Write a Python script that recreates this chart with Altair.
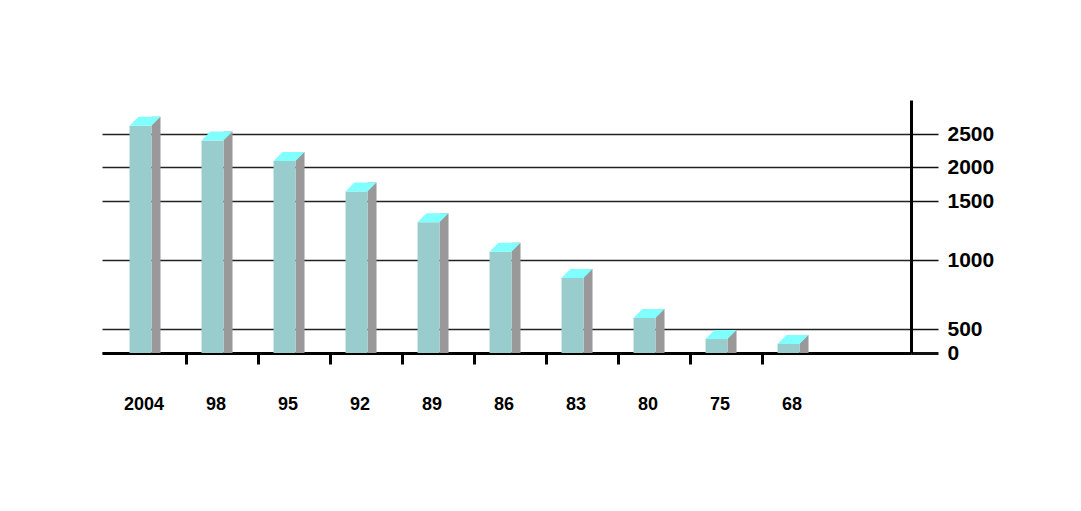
import altair as alt
import pandas as pd

# ---- data ----
years = ["2004", "98", "95", "92", "89", "86", "83", "80", "75", "68"]
values = [2620, 2400, 2090, 1640, 1320, 1070, 870, 580, 290, 190]
y_ticks = [0, 500, 1000, 1500, 2000, 2500]

df = pd.DataFrame({"year": years, "value": values})

W, H = 809, 254
FONT = "Liberation Sans"

# the reference's value axis is drawn with uneven spacing -> piecewise scale
y_scale = alt.Scale(domain=[0, 500, 1000, 1500, 2000, 2500, 3000],
                    range=[254, 230, 161, 102, 68, 35, 1], nice=False, zero=False)
x_scale = alt.Scale(type="band", domain=years, paddingInner=0,
                    paddingOuter=0.618, align=0.135)

x_axis = alt.Axis(
    title=None, orient="bottom", grid=False, labelAngle=0,
    domainColor="black", domainWidth=3,
    bandPosition=1,
    tickColor={"condition": {"test": "datum.value === '68'", "value": "transparent"},
               "value": "black"},
    tickWidth=3, tickSize=11,
    labelFont=FONT, labelFontSize=18, labelFontWeight="bold", labelColor="black",
    labelPadding=31, labelOffset=-6,
)
y_axis = alt.Axis(
    title=None, orient="right", values=y_ticks, format="d",
    grid=True, gridColor="#222222", gridWidth=1.5,
    domainColor="black", domainWidth=3,
    tickColor="#111111", tickSize=27,
    tickWidth={"condition": {"test": "datum.value === 0", "value": 3}, "value": 1.5},
    labelFont=FONT, labelFontSize=21, labelFontWeight="bold", labelColor="black",
    labelPadding=9,
)

base = alt.Chart(df).encode(
    x=alt.X("year:N", sort=years, scale=x_scale, axis=x_axis),
    y=alt.Y("value:Q", scale=y_scale, axis=y_axis, stack=None),
)

front = base.mark_bar(color="#99CCCC", width=22, xOffset=-9.5).encode(y2=alt.datum(0))
side = base.mark_bar(color="#999999", width=9, xOffset=6, yOffset=-9, y2Offset=0).encode(
    y2=alt.datum(0))
top_path = "M -1 0.29 L -0.419 -0.29 L 1 -0.29 L 0.419 0.29 Z"
top = base.mark_point(shape=top_path, size=961, filled=True, fill="#80FFFF",
                      opacity=1, strokeWidth=0, yOffset=-4.5, xOffset=-5)

chart = alt.layer(side, front, top).properties(
    width=W, height=H,
    autosize="none",
    padding={"left": 94, "top": 91, "right": 140, "bottom": 100},
    background="white",
).configure_view(stroke=None)

chart.save("out.html", embed_options={"renderer": "svg", "actions": False})
